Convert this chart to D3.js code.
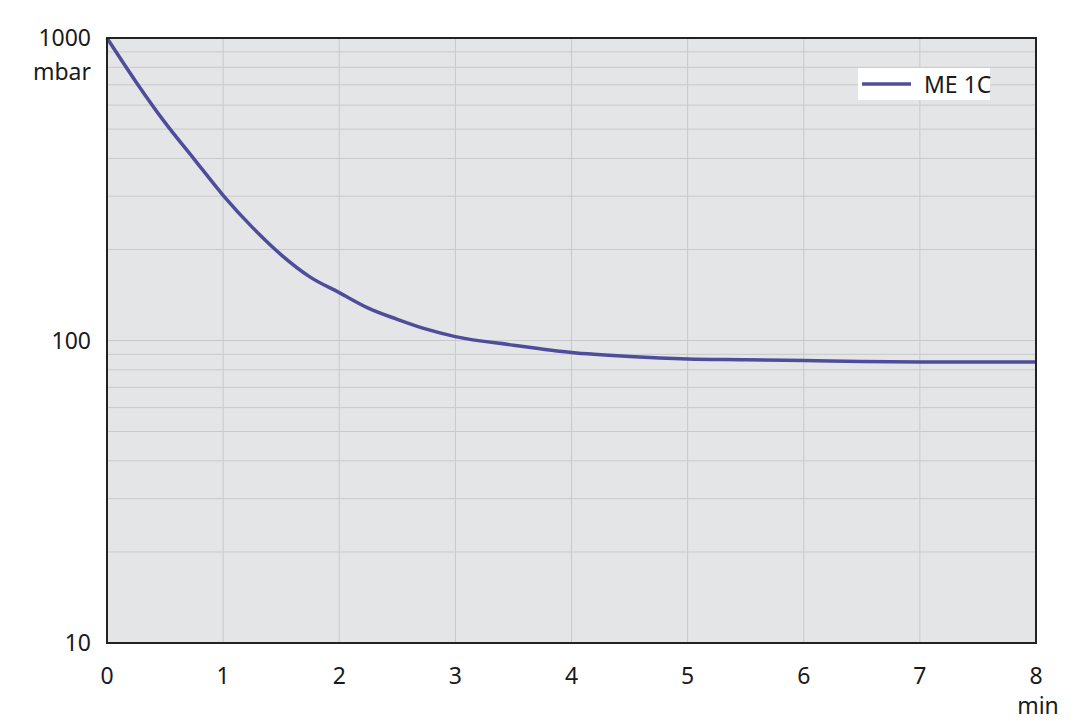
<!DOCTYPE html>
<html>
<head>
<meta charset="utf-8">
<script src="https://cdn.jsdelivr.net/npm/d3@7"></script>
<style>
  body { margin: 0; background: #fff; }
  svg { display: block; }
  text { font-family: "Noto Sans", "Open Sans", sans-serif; fill: #1a1a1a; }
</style>
</head>
<body>
<svg id="chart" width="1080" height="721"></svg>
<script>
// time in minutes, pressure in mbar
const times = [0, 0.25, 0.5, 0.75, 1, 1.25, 1.5, 1.75, 2, 2.25, 2.5, 2.75, 3, 3.5, 4, 4.5, 5, 5.5, 6, 6.5, 7, 8];
const pressure = [1000, 716, 525, 398, 302, 237, 192, 162, 144, 128, 117.5, 109, 103, 96.5, 91.2, 88.5, 86.9, 86.4, 85.8, 85.2, 84.9, 84.9];
const xTicks = [0, 1, 2, 3, 4, 5, 6, 7, 8];
const yTicks = [10, 100, 1000];
const yMinor = [20, 30, 40, 50, 60, 70, 80, 90, 200, 300, 400, 500, 600, 700, 800, 900];
const seriesName = 'ME 1C';

const svg = d3.select('#chart');
const margin = { top: 38, right: 44, bottom: 78, left: 107 };
const width = 1080, height = 721;

const x = d3.scaleLinear().domain([0, 8]).range([margin.left, width - margin.right]);
const y = d3.scaleLog().domain([10, 1000]).range([height - margin.bottom, margin.top]);

// plot background
svg.append('rect')
  .attr('x', x(0)).attr('y', y(1000))
  .attr('width', x(8) - x(0)).attr('height', y(10) - y(1000))
  .attr('fill', '#e4e5e7');

// grid
const grid = svg.append('g').attr('stroke', '#c8c9cc').attr('stroke-width', 1);
grid.selectAll('.hg')
  .data(yMinor.concat([100]))
  .join('line')
  .attr('x1', x(0)).attr('x2', x(8))
  .attr('y1', d => y(d)).attr('y2', d => y(d));
grid.selectAll('.vg')
  .data(xTicks.slice(1, -1))
  .join('line')
  .attr('y1', y(10)).attr('y2', y(1000))
  .attr('x1', d => x(d)).attr('x2', d => x(d));

// curve
const data = times.map((t, i) => ({ t, p: pressure[i] }));
svg.append('path')
  .datum(data)
  .attr('fill', 'none')
  .attr('stroke', '#504c9c')
  .attr('stroke-width', 3.5)
  .attr('stroke-linejoin', 'round')
  .attr('d', d3.line()
    .x(d => x(d.t))
    .y(d => y(d.p))
    .curve(d3.curveMonotoneX));

// frame
svg.append('rect')
  .attr('x', x(0)).attr('y', y(1000))
  .attr('width', x(8) - x(0)).attr('height', y(10) - y(1000))
  .attr('fill', 'none')
  .attr('stroke', '#222')
  .attr('stroke-width', 2);

// axis labels
svg.append('g').selectAll('text')
  .data(yTicks)
  .join('text')
  .attr('x', 91)
  .attr('y', d => y(d))
  .attr('dy', '0.36em')
  .attr('text-anchor', 'end')
  .attr('font-size', 23)
  .text(d => d);
svg.append('text')
  .attr('x', 91).attr('y', 80)
  .attr('text-anchor', 'end')
  .attr('font-size', 23)
  .text('mbar');

svg.append('g').selectAll('text')
  .data(xTicks)
  .join('text')
  .attr('x', d => x(d))
  .attr('y', 684)
  .attr('text-anchor', 'middle')
  .attr('font-size', 23)
  .text(d => d);
svg.append('text')
  .attr('x', x(8) + 2).attr('y', 714)
  .attr('text-anchor', 'middle')
  .attr('font-size', 23)
  .text('min');

// legend
const legend = svg.append('g').attr('transform', 'translate(858,68)');
legend.append('rect')
  .attr('width', 132).attr('height', 32)
  .attr('fill', '#fff');
legend.append('line')
  .attr('x1', 4).attr('x2', 53)
  .attr('y1', 16).attr('y2', 16)
  .attr('stroke', '#504c9c').attr('stroke-width', 3.5);
legend.append('text')
  .attr('x', 66).attr('y', 25)
  .attr('font-size', 23)
  .text(seriesName);
</script>
</body>
</html>
